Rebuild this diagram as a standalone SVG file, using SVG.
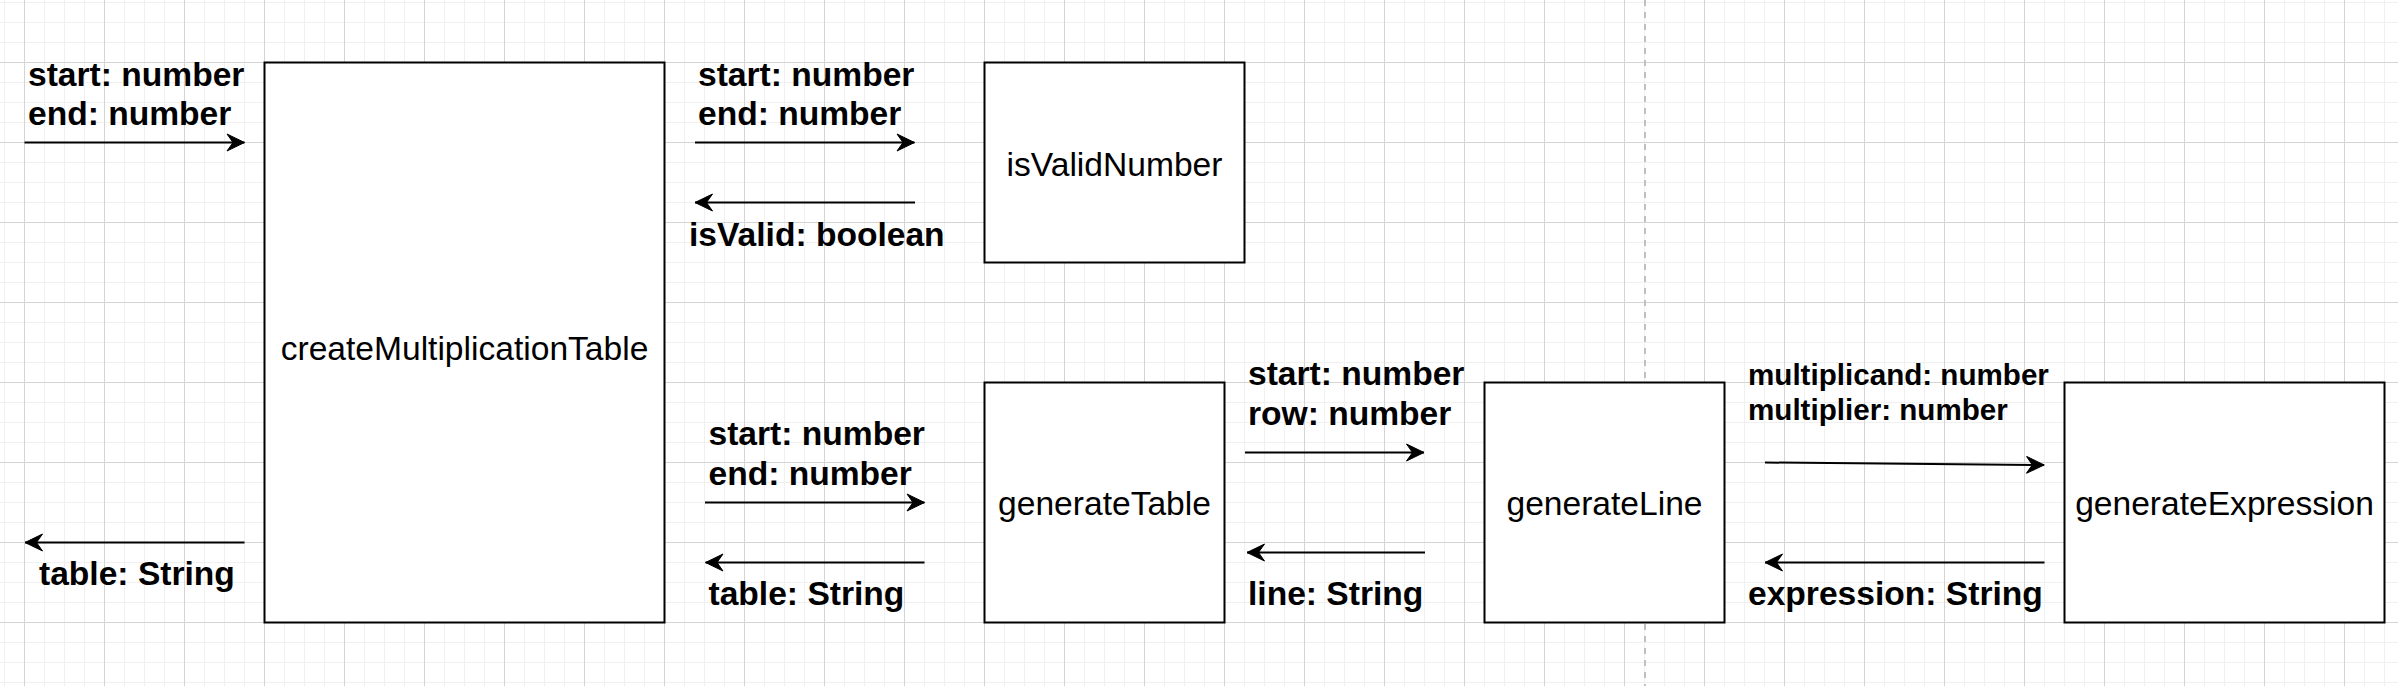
<svg xmlns="http://www.w3.org/2000/svg" width="2398" height="686" viewBox="0 0 2398 686">
<defs>
<style>
.box{fill:#ffffff;stroke:#000000;stroke-width:2}
.lbl{font-family:"Liberation Sans",Arial,Helvetica,sans-serif;font-size:33.6px;fill:#000000;text-anchor:middle}
.el{font-family:"Liberation Sans",Arial,Helvetica,sans-serif;font-size:33.6px;font-weight:bold;fill:#000000}
.els{font-size:29.6px}
.edge{fill:none;stroke:#000000;stroke-width:2;marker-end:url(#arrow)}
</style>
<marker id="arrow" markerUnits="userSpaceOnUse" viewBox="-20 -10 22 20" refX="0" refY="0" markerWidth="22" markerHeight="20" orient="auto">
<path d="M0,0 L-17.5,-8.5 L-11.5,0 L-17.5,8.5 Z" fill="#000000" stroke="#000000" stroke-width="1"/>
</marker>
<pattern id="grid" patternUnits="userSpaceOnUse" x="4" y="2" width="80" height="80">
<rect x="0" y="0" width="80" height="80" fill="#ffffff"/>
<rect x="0" y="0" width="1" height="80" fill="#f0f0f0"/>
<rect x="40" y="0" width="1" height="80" fill="#f0f0f0"/>
<rect x="60" y="0" width="1" height="80" fill="#f0f0f0"/>
<rect x="0" y="0" width="80" height="1" fill="#f0f0f0"/>
<rect x="0" y="20" width="80" height="1" fill="#f0f0f0"/>
<rect x="0" y="40" width="80" height="1" fill="#f0f0f0"/>
<rect x="20" y="0" width="1" height="80" fill="#d4d4d4"/>
<rect x="0" y="60" width="80" height="1" fill="#d4d4d4"/>
</pattern>
</defs>
<rect x="0" y="0" width="2398" height="686" fill="url(#grid)"/>
<line x1="1645" y1="0" x2="1645" y2="686" stroke="#c0c0c0" stroke-width="2" stroke-dasharray="6 6"/>

<g id="createMultiplicationTable">
<rect class="box" x="264.5" y="62.5" width="400" height="560"/>
<text class="lbl" x="464.5" y="360">createMultiplicationTable</text>
</g>
<g id="isValidNumber">
<rect class="box" x="984.5" y="62.5" width="260" height="200"/>
<text class="lbl" x="1114.5" y="175.5">isValidNumber</text>
</g>
<g id="generateTable">
<rect class="box" x="984.5" y="382.5" width="240" height="240"/>
<text class="lbl" x="1104.5" y="515">generateTable</text>
</g>
<g id="generateLine">
<rect class="box" x="1484.5" y="382.5" width="240" height="240"/>
<text class="lbl" x="1604.5" y="515">generateLine</text>
</g>
<g id="generateExpression">
<rect class="box" x="2064.5" y="382.5" width="320" height="240"/>
<text class="lbl" x="2224.5" y="515">generateExpression</text>
</g>

<g id="connectors">
<path class="edge" d="M24.5,142.5 L244.5,142.5"/>
<path class="edge" d="M244.5,542.5 L25,542.5"/>
<path class="edge" d="M695,142.5 L914.5,142.5"/>
<path class="edge" d="M915,202.5 L695,202.5"/>
<path class="edge" d="M705,502.5 L924.5,502.5"/>
<path class="edge" d="M924.5,562.5 L705.5,562.5"/>
<path class="edge" d="M1245,452.5 L1424,452.5"/>
<path class="edge" d="M1425,552.5 L1247,552.5"/>
<path class="edge" d="M1765,462.5 L2044,465"/>
<path class="edge" d="M2044.5,562.5 L1765,562.5"/>
<text class="el" x="28" y="86">start: number</text>
<text class="el" x="28" y="125">end: number</text>
<text class="el" x="39" y="585">table: String</text>
<text class="el" x="698" y="86">start: number</text>
<text class="el" x="698" y="125">end: number</text>
<text class="el" x="689" y="246">isValid: boolean</text>
<text class="el" x="708.5" y="445">start: number</text>
<text class="el" x="708.5" y="485">end: number</text>
<text class="el" x="708.5" y="605">table: String</text>
<text class="el" x="1248" y="385">start: number</text>
<text class="el" x="1248" y="425">row: number</text>
<text class="el" x="1248" y="605">line: String</text>
<text class="el els" x="1748" y="385">multiplicand: number</text>
<text class="el els" x="1748" y="420">multiplier: number</text>
<text class="el" x="1748" y="605">expression: String</text>
</g>
</svg>
